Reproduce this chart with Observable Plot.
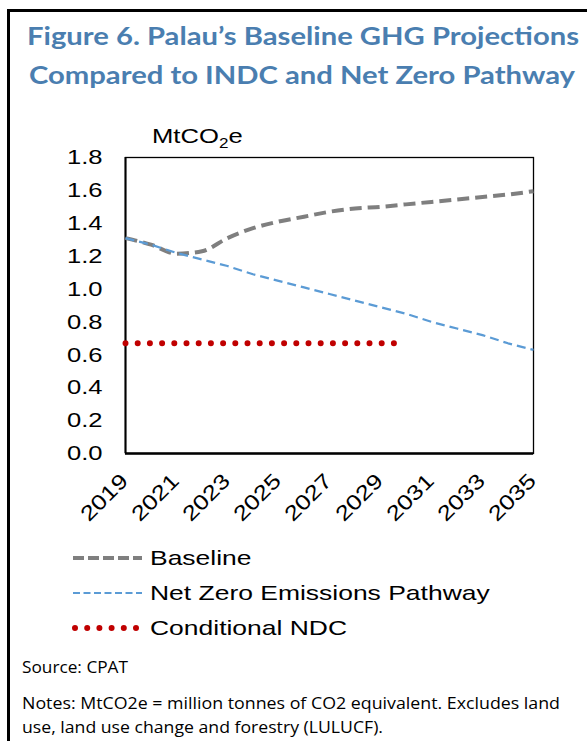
<!DOCTYPE html>
<html>
<head>
<meta charset="utf-8">
<script src="https://cdn.jsdelivr.net/npm/d3@7"></script>
<script src="https://cdn.jsdelivr.net/npm/@observablehq/plot@0.6"></script>
<style>
  html, body { margin: 0; padding: 0; background: #fff; }
  #page { position: relative; width: 587px; height: 741px; overflow: hidden; background: #fff; }
  #box { position: absolute; left: 7px; top: 9px; width: 600px; height: 760px;
         border-top: 3px solid #000; border-left: 3px solid #000; box-sizing: border-box; }
  .abs { position: absolute; }
  .chartText { font-family: "Liberation Sans", Arial, sans-serif; font-size: 21px; color: #000;
               transform: scaleX(1.22); transform-origin: left center; white-space: nowrap; }
  #ylabel { left: 152px; top: 124px; line-height: 24px; }
  #ylabel sub { font-size: 14px; vertical-align: -5px; line-height: 0; }
  .legendRow { position: absolute; left: 60px; height: 24px; }
  .legendRow svg { position: absolute; left: 0; top: 0; }
  .legendRow .chartText { position: absolute; left: 90px; top: 0; line-height: 24px; transform: scaleX(1.26); }
</style>
</head>
<body>
<div id="page">
  <div id="box"></div>
  <svg class="abs" id="head" width="587" height="100" style="left:0;top:0"></svg>
  <div class="abs chartText" id="ylabel">MtCO<sub>2</sub>e</div>
  <div class="abs" id="chart" style="left:0;top:130px"></div>
  <div id="legend"></div>
  <svg class="abs" id="foot" width="587" height="100" style="left:0;top:641px"></svg>
</div>
<script>
// Emissions in MtCO2e, by year
const years = [2019, 2020, 2021, 2022, 2023, 2024, 2025, 2026, 2027, 2028, 2029, 2030, 2031, 2032, 2033, 2034, 2035];
const baseline = [1.31, 1.27, 1.215, 1.23, 1.31, 1.37, 1.41, 1.44, 1.47, 1.49, 1.50, 1.515, 1.53, 1.545, 1.56, 1.575, 1.595];
const netZero = [1.31, 1.27, 1.22, 1.18, 1.14, 1.09, 1.05, 1.01, 0.97, 0.93, 0.89, 0.85, 0.80, 0.76, 0.72, 0.67, 0.63];
const ndcYears = [2019, 2020, 2021, 2022, 2023, 2024, 2025, 2026, 2027, 2028, 2029, 2030];
const ndcValues = [0.67, 0.67, 0.67, 0.67, 0.67, 0.67, 0.67, 0.67, 0.67, 0.67, 0.67, 0.67];
const xTicks = [2019, 2021, 2023, 2025, 2027, 2029, 2031, 2033, 2035];
const yTicks = [0, 0.2, 0.4, 0.6, 0.8, 1.0, 1.2, 1.4, 1.6, 1.8];

const seriesNames = ["Baseline", "Net Zero Emissions Pathway", "Conditional NDC"];
const seriesColors = ["#7f7f7f", "#5b9bd5", "#c00000"];

const titleLines = ["Figure 6. Palau\u2019s Baseline GHG Projections", "Compared to INDC and Net Zero Pathway"];
const sourceText = "Source: CPAT";
const noteLines = ["Notes: MtCO2e = million tonnes of CO2 equivalent. Excludes land",
                   "use, land use change and forestry (LULUCF)."];

const baseRows = years.map((year, i) => ({year, value: baseline[i]}));
const netRows = years.map((year, i) => ({year, value: netZero[i]}));
const ndcRows = ndcYears.map((year, i) => ({year, value: ndcValues[i]}));

const styles = [
  {stroke: seriesColors[0], strokeWidth: 4, strokeDasharray: "12 6", strokeLinecap: "butt"},
  {stroke: seriesColors[1], strokeWidth: 2.2, strokeDasharray: "9 5", strokeLinecap: "butt"},
  {stroke: seriesColors[2], strokeWidth: 6, strokeDasharray: "0 12.2", strokeLinecap: "round"}
];

// Title
const NS = "http://www.w3.org/2000/svg";
function svgText(svg, str, x, y, width, attrs) {
  const t = document.createElementNS(NS, "text");
  t.setAttribute("x", x);
  t.setAttribute("y", y);
  t.setAttribute("textLength", width);
  t.setAttribute("lengthAdjust", "spacingAndGlyphs");
  for (const k in attrs) t.setAttribute(k, attrs[k]);
  t.textContent = str;
  svg.appendChild(t);
}
const head = document.getElementById("head");
const titleAttrs = {"font-family": "Lato, 'Open Sans', sans-serif", "font-weight": "700", "font-size": "24", fill: "#4a7eb0"};
svgText(head, titleLines[0], 27, 45, 552, titleAttrs);
svgText(head, titleLines[1], 29, 84, 546, titleAttrs);

// Chart
const chart = Plot.plot({
  width: 587,
  height: 410,
  marginTop: 27,
  marginBottom: 87,
  marginLeft: 125,
  marginRight: 54,
  style: {fontFamily: "'Liberation Sans', Arial, sans-serif", fontSize: "21px", color: "#000", background: "transparent"},
  x: {domain: [2019, 2035]},
  y: {domain: [0, 1.8]},
  marks: [
    Plot.axisY({ticks: yTicks, tickFormat: d => d.toFixed(1), tickSize: 0, tickPadding: 23, label: null, fontSize: 21}),
    Plot.axisX({ticks: xTicks, tickFormat: d => String(d), tickSize: 0, tickRotate: -45, tickPadding: 8, label: null, fontSize: 21}),
    Plot.frame({stroke: "#000", strokeWidth: 1.3}),
    Plot.ruleY([0], {stroke: "#000", strokeWidth: 2.5}),
    Plot.ruleX([2019], {stroke: "#000", strokeWidth: 2}),
    Plot.line(baseRows, {x: "year", y: "value", curve: "monotone-x", ...styles[0]}),
    Plot.line(netRows, {x: "year", y: "value", ...styles[1]}),
    Plot.line(ndcRows, {x: "year", y: "value", ...styles[2]})
  ]
});
// widen the Arial-style tick labels; drop the year labels a little lower
chart.querySelectorAll('g[aria-label="y-axis tick label"] text').forEach(t => {
  t.setAttribute("transform", (t.getAttribute("transform") || "") + " scale(1.22,1)");
});
chart.querySelectorAll('g[aria-label="x-axis tick label"] text').forEach(t => {
  t.setAttribute("transform", "translate(-1,16) " + (t.getAttribute("transform") || "") + " scale(1.22,1)");
});
document.getElementById("chart").appendChild(chart);

// Legend
const legend = document.getElementById("legend");
const rowTops = [546, 581, 616];
seriesNames.forEach((name, i) => {
  const row = document.createElement("div");
  row.className = "legendRow";
  row.style.top = rowTops[i] + "px";
  const s = styles[i];
  const dash = i === 0 ? "11 4" : i === 1 ? "7 3.5" : "0 12.2";
  const x1 = i === 2 ? 15 : 13;
  const x2 = 82;
  row.innerHTML = `<svg width="90" height="24"><line x1="${x1}" x2="${x2}" y1="12" y2="12" stroke="${s.stroke}" stroke-width="${i === 0 ? 4 : i === 1 ? 2 : 6}" stroke-dasharray="${dash}" stroke-linecap="${s.strokeLinecap}"/></svg><div class="chartText">${name}</div>`;
  legend.appendChild(row);
});

// Source and notes
const foot = document.getElementById("foot");
const footAttrs = {"font-family": "'Open Sans', 'Noto Sans', sans-serif", "font-size": "17", fill: "#000"};
svgText(foot, sourceText, 22, 32, 106, footAttrs);
svgText(foot, noteLines[0], 22, 68, 538, footAttrs);
svgText(foot, noteLines[1], 22, 92, 361, footAttrs);
</script>
</body>
</html>
